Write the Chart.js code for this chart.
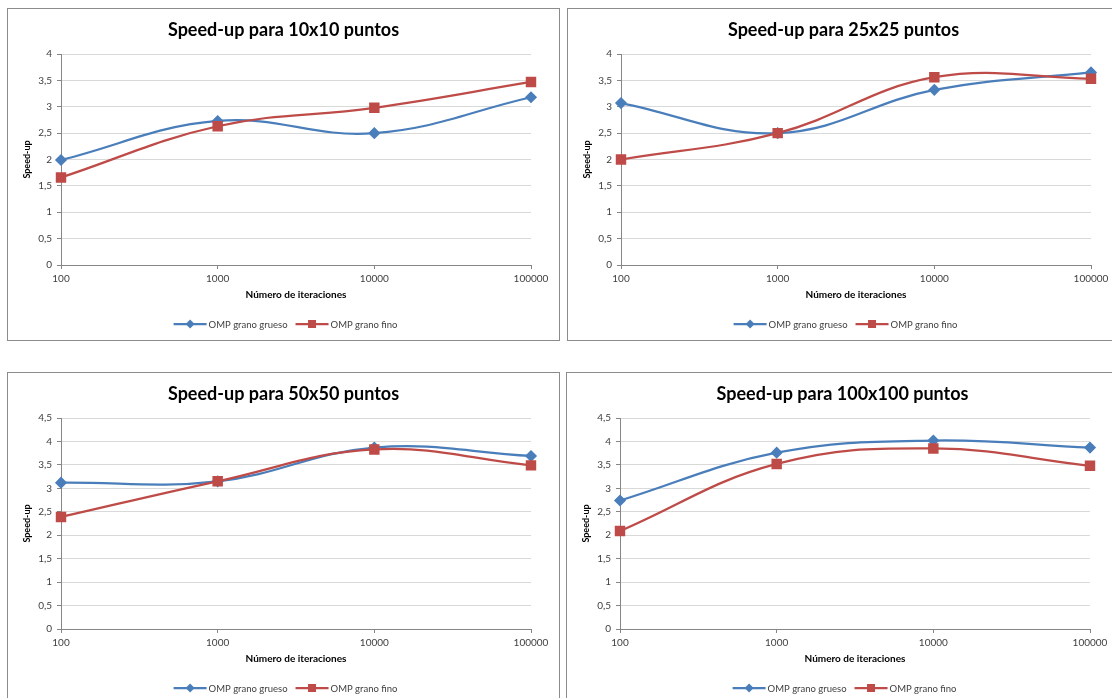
<!DOCTYPE html>
<html>
<head>
<meta charset="utf-8">
<script src="https://cdn.jsdelivr.net/npm/chart.js@4.4.1/dist/chart.umd.min.js"></script>
<style>
  html, body { margin: 0; padding: 0; background: #fff; width: 1112px; height: 698px; overflow: hidden; }
  .caja { position: absolute; border: 1px solid #8c8c8c; background: #fff; width: 551px; height: 331px; }
  .caja canvas { display: block; }
</style>
</head>
<body>
<div class="caja" style="left:7px;top:8px"><canvas id="g10" width="551" height="331"></canvas></div>
<div class="caja" style="left:567px;top:8px"><canvas id="g25" width="551" height="331"></canvas></div>
<div class="caja" style="left:7px;top:372px"><canvas id="g50" width="551" height="331"></canvas></div>
<div class="caja" style="left:566px;top:372px"><canvas id="g100" width="551" height="331"></canvas></div>
<script>
// Número de iteraciones (eje X)
const iteraciones = ['100', '1000', '10000', '100000'];

// Speed-up, malla 10x10
const grueso10 = [1.99, 2.73, 2.50, 3.18];
const fino10   = [1.66, 2.63, 2.98, 3.47];
// Speed-up, malla 25x25
const grueso25 = [3.07, 2.50, 3.32, 3.65];
const fino25   = [2.00, 2.50, 3.56, 3.53];
// Speed-up, malla 50x50
const grueso50 = [3.12, 3.15, 3.87, 3.69];
const fino50   = [2.39, 3.15, 3.83, 3.49];
// Speed-up, malla 100x100
const grueso100 = [2.74, 3.76, 4.02, 3.87];
const fino100   = [2.09, 3.52, 3.85, 3.48];

const AZUL = '#4a7ebb';
const ROJO = '#be4b48';
const FUENTE = 'Lato, Carlito, Calibri, "Open Sans", sans-serif';

function marcador(ctx, estilo, x, y, color) {
  ctx.fillStyle = color;
  ctx.beginPath();
  if (estilo === 'rectRot') {
    const r = 4.5;
    ctx.moveTo(x, y - r); ctx.lineTo(x + r, y); ctx.lineTo(x, y + r); ctx.lineTo(x - r, y);
    ctx.closePath();
  } else {
    const s = 4;
    ctx.rect(x - s, y - s, 2 * s, 2 * s);
  }
  ctx.fill();
}

// Título y leyenda dibujados a mano sobre el lienzo
const decoracion = {
  id: 'decoracion',
  afterDraw(chart, args, opts) {
    const ctx = chart.ctx;
    ctx.save();
    ctx.fillStyle = '#000';
    ctx.font = 'bold 18px ' + FUENTE;
    ctx.textAlign = 'center';
    ctx.textBaseline = 'middle';
    ctx.fillText(opts.titulo, chart.width / 2, 21);

    ctx.font = '9.5px ' + FUENTE;
    ctx.textAlign = 'left';
    const largo = 33, hueco = 2, sep = 8;
    const items = chart.data.datasets.map(ds => ({ ds, w: largo + hueco + ctx.measureText(ds.label).width }));
    const total = items.reduce((a, b) => a + b.w, 0) + sep * (items.length - 1);
    let x = chart.width / 2 - total / 2 + 2;
    const y = 315;
    items.forEach(it => {
      ctx.strokeStyle = it.ds.borderColor;
      ctx.lineWidth = 2.25;
      ctx.beginPath(); ctx.moveTo(x, y); ctx.lineTo(x + largo, y); ctx.stroke();
      marcador(ctx, it.ds.pointStyle, x + largo / 2, y, it.ds.borderColor);
      ctx.fillStyle = '#404040';
      ctx.fillText(it.ds.label, x + largo + hueco, y + 1);
      x += it.w + sep;
    });
    ctx.restore();
  }
};

function grafico(id, titulo, grueso, fino, maxY) {
  new Chart(document.getElementById(id), {
    type: 'line',
    data: {
      labels: iteraciones,
      datasets: [
        { label: 'OMP grano grueso', data: grueso, borderColor: AZUL, backgroundColor: AZUL,
          pointStyle: 'rectRot', pointRadius: 4.5, pointHoverRadius: 4.5, borderWidth: 2.25,
          tension: 0.4, clip: false, order: 1 },
        { label: 'OMP grano fino', data: fino, borderColor: ROJO, backgroundColor: ROJO,
          pointStyle: 'rect', pointRadius: 5.8, pointHoverRadius: 5.8, borderWidth: 2.25,
          tension: 0.4, clip: false, order: 0 }
      ]
    },
    options: {
      responsive: false,
      animation: false,
      events: [],
      layout: { padding: { left: 10, right: 28, top: 45, bottom: 39 } },
      plugins: {
        legend: { display: false },
        title: { display: false },
        tooltip: { enabled: false },
        decoracion: { titulo: titulo }
      },
      scales: {
        x: {
          offset: false,
          grid: { drawOnChartArea: false, drawTicks: true, tickLength: 4, tickColor: '#868686' },
          border: { color: '#868686', width: 1 },
          ticks: { color: '#404040', padding: 4, font: { family: FUENTE, size: 10 }, maxRotation: 0, autoSkip: false },
          title: { display: true, text: 'Número de iteraciones', color: '#000',
                   font: { family: FUENTE, size: 10, weight: 'bold' }, padding: { top: 0, bottom: 0 } },
          afterFit(s) { s.height = 36; }
        },
        y: {
          min: 0, max: maxY,
          grid: { color: '#d9d9d9', tickColor: '#868686', tickLength: 4 },
          border: { color: '#868686', width: 1 },
          ticks: { stepSize: 0.5, color: '#404040', padding: 5, font: { family: FUENTE, size: 10 },
                   callback: v => String(v).replace('.', ',') },
          title: { display: true, text: 'Speed-up', color: '#000',
                   font: { family: FUENTE, size: 9, weight: 'bold' }, padding: { top: 4, bottom: 0 } },
          afterFit(s) { s.width = 43; }
        }
      }
    },
    plugins: [decoracion]
  });
}

grafico('g10', 'Speed-up para 10x10 puntos', grueso10, fino10, 4);
grafico('g25', 'Speed-up para 25x25 puntos', grueso25, fino25, 4);
grafico('g50', 'Speed-up para 50x50 puntos', grueso50, fino50, 4.5);
grafico('g100', 'Speed-up para 100x100 puntos', grueso100, fino100, 4.5);
</script>
</body>
</html>
